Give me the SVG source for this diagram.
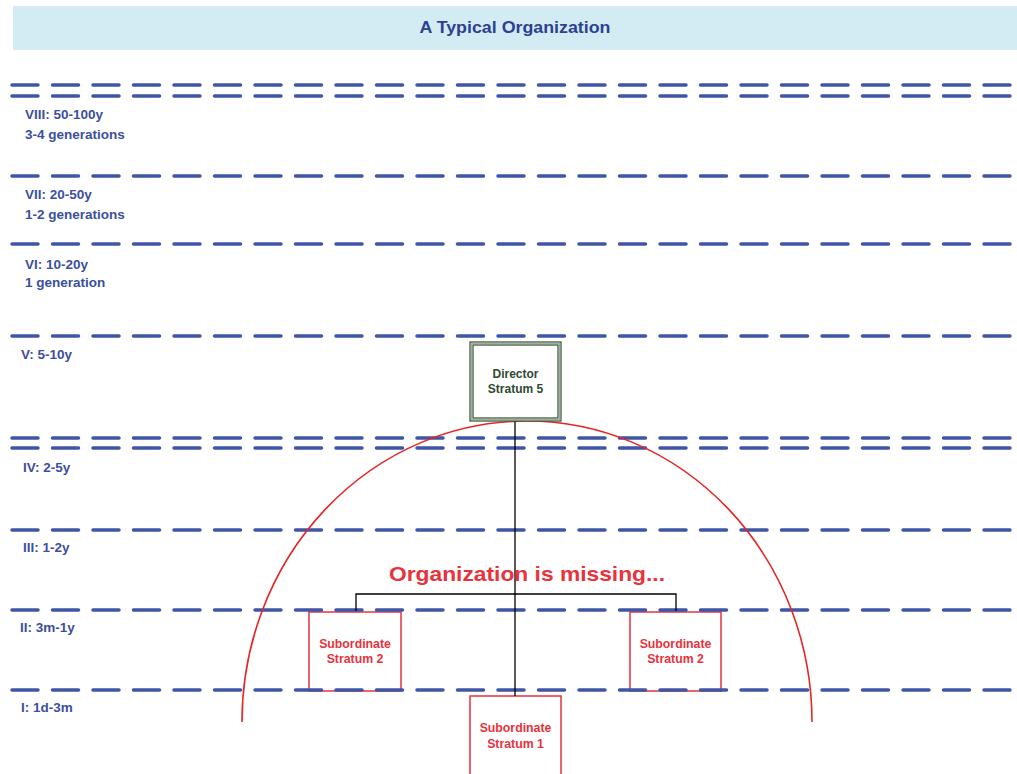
<svg xmlns="http://www.w3.org/2000/svg" width="1017" height="774" viewBox="0 0 1017 774">
<style>
.dash{stroke:#3f55a5;stroke-width:3.5;stroke-dasharray:26 14.5;stroke-linecap:round;fill:none}
.lbl{font-family:"Liberation Sans",Arial,sans-serif;font-weight:bold;font-size:13.5px;fill:#3b4f9e}
.red{fill:#fff;stroke:#e8323c;stroke-width:1.5}
.rt{font-family:"Liberation Sans",Arial,sans-serif;font-weight:bold;font-size:12.3px;fill:#e8323c;text-anchor:middle}
.con{stroke:#000;stroke-width:1.3;fill:none}
.dt{font-family:"Liberation Sans",Arial,sans-serif;font-weight:bold;font-size:12px;fill:#2f4a2f;text-anchor:middle}
</style>
<rect x="0" y="0" width="1017" height="774" fill="#fff"/>
<g id="title">
<rect x="13" y="6" width="1004" height="44" fill="#d3ecf3"/>
<text x="515" y="33" font-family="Liberation Sans,Arial,sans-serif" font-weight="bold" font-size="16" fill="#2e4191" text-anchor="middle" textLength="191" lengthAdjust="spacingAndGlyphs">A Typical Organization</text>
</g>
<g id="boxes-sub">
<g id="sub2-left"><rect class="red" x="309" y="612" width="92" height="79"/><text class="rt" x="355" y="648">Subordinate</text><text class="rt" x="355" y="663">Stratum 2</text></g>
<g id="sub2-right"><rect class="red" x="630" y="612" width="91" height="79"/><text class="rt" x="675.5" y="648">Subordinate</text><text class="rt" x="675.5" y="663">Stratum 2</text></g>
<g id="sub1"><rect class="red" x="470" y="696" width="91" height="90"/><text class="rt" x="515.5" y="732">Subordinate</text><text class="rt" x="515.5" y="748">Stratum 1</text></g>
</g>
<g id="strata-lines">
<line class="dash" x1="12" y1="85" x2="1011" y2="85"/>
<line class="dash" x1="12" y1="96" x2="1011" y2="96"/>
<line class="dash" x1="12" y1="176" x2="1011" y2="176"/>
<line class="dash" x1="12" y1="244" x2="1011" y2="244"/>
<line class="dash" x1="12" y1="336" x2="1011" y2="336"/>
<line class="dash" x1="12" y1="438" x2="1011" y2="438"/>
<line class="dash" x1="12" y1="448" x2="1011" y2="448"/>
<line class="dash" x1="12" y1="530" x2="1011" y2="530"/>
<line class="dash" x1="12" y1="610" x2="1011" y2="610"/>
<line class="dash" x1="12" y1="690" x2="1011" y2="690"/>
</g>
<g id="strata-labels">
<text class="lbl" x="25" y="119">VIII: 50-100y</text>
<text class="lbl" x="25" y="139">3-4 generations</text>
<text class="lbl" x="25" y="199">VII: 20-50y</text>
<text class="lbl" x="25" y="219">1-2 generations</text>
<text class="lbl" x="25" y="269">VI: 10-20y</text>
<text class="lbl" x="25" y="287">1 generation</text>
<text class="lbl" x="21" y="359">V: 5-10y</text>
<text class="lbl" x="23" y="472">IV: 2-5y</text>
<text class="lbl" x="23" y="552">III: 1-2y</text>
<text class="lbl" x="20" y="632">II: 3m-1y</text>
<text class="lbl" x="21" y="712">I: 1d-3m</text>
</g>
<g id="arc">
<path d="M242,722 A285,301 0 0 1 812,722" fill="none" stroke="#e42626" stroke-width="1.6"/>
</g>
<g id="connectors">
<line class="con" x1="515" y1="421" x2="515" y2="696"/>
<polyline class="con" points="356,611 356,594 676,594 676,611"/>
</g>
<g id="director">
<rect x="470" y="342" width="91" height="79" fill="#fff" stroke="#3d5a3d" stroke-width="1.3"/>
<rect x="473" y="345" width="85" height="73" fill="none" stroke="#3d5a3d" stroke-width="1.3"/>
<rect x="471.5" y="343.5" width="88" height="76" fill="none" stroke="#9fb09f" stroke-width="1"/>
<text class="dt" x="515.5" y="378">Director</text>
<text class="dt" x="515.5" y="393">Stratum 5</text>
</g>
<g id="missing">
<text x="527" y="581" font-family="Liberation Sans,Arial,sans-serif" font-weight="bold" font-size="21" fill="#e8323c" text-anchor="middle" textLength="276" lengthAdjust="spacingAndGlyphs">Organization is missing...</text>
</g>
</svg>
